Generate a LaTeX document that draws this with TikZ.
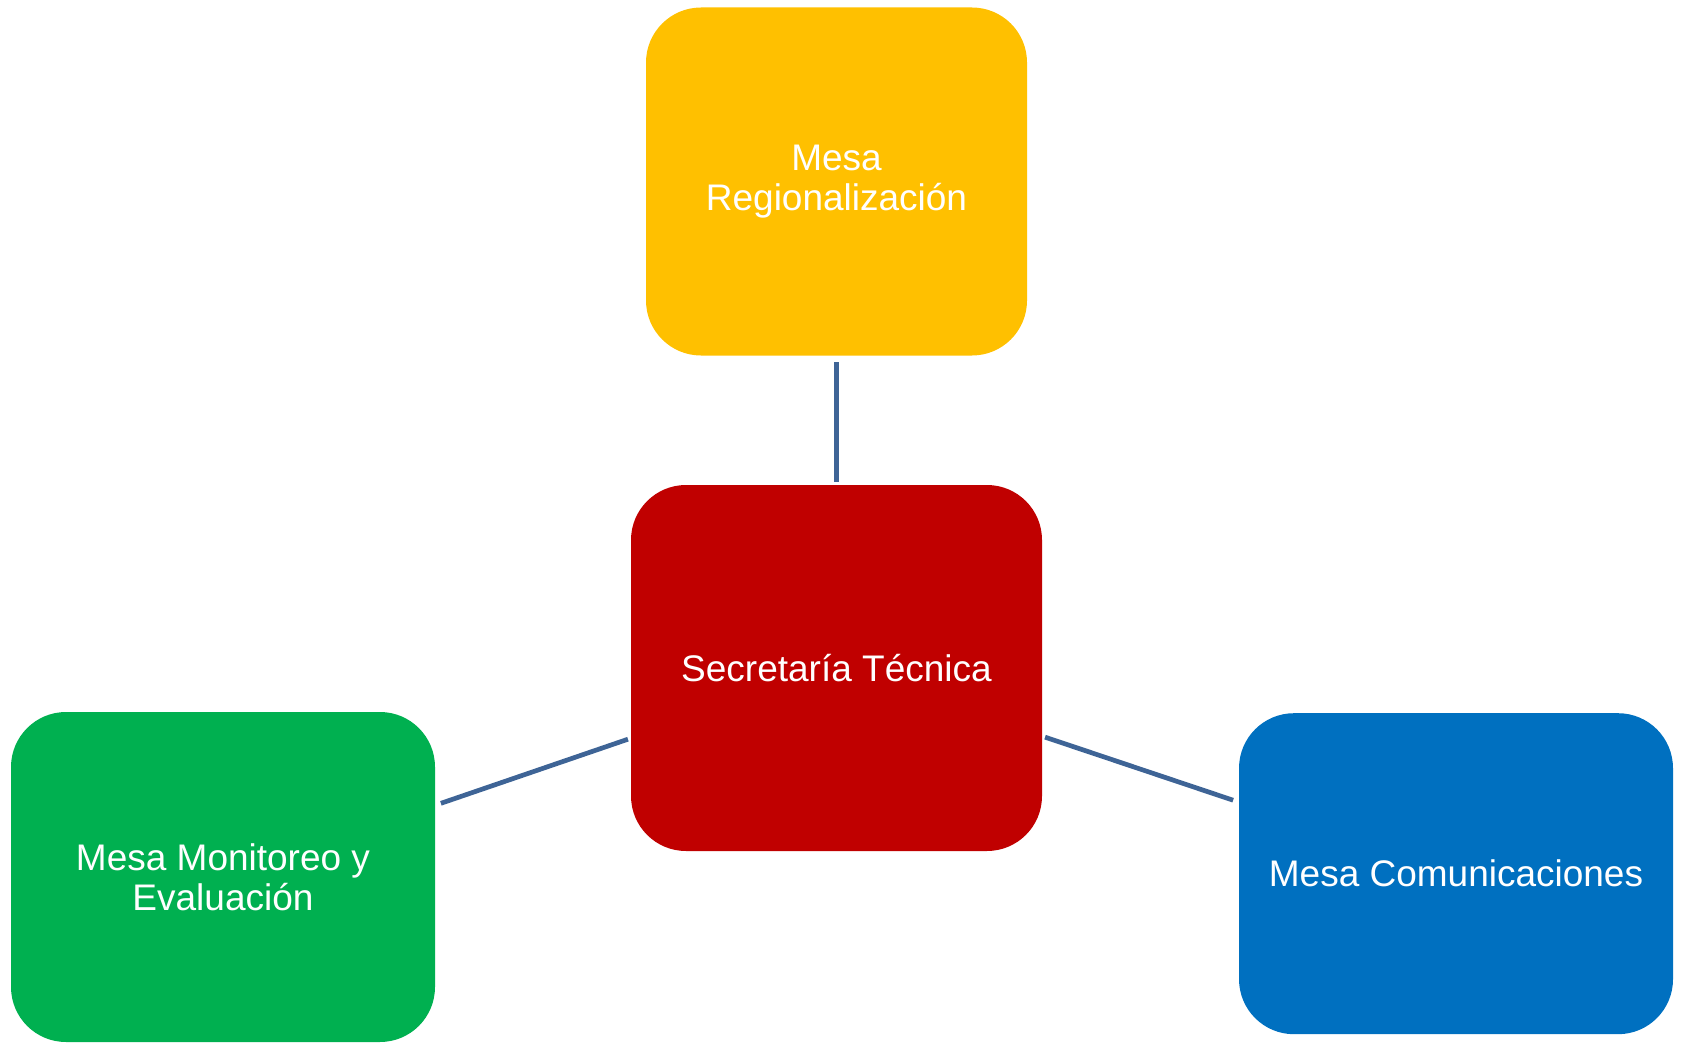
\documentclass[tikz,border=0pt]{standalone}
\usepackage{fontspec}
\setmainfont{Liberation Sans}
\definecolor{cyellow}{HTML}{FFC000}
\definecolor{cred}{HTML}{C00000}
\definecolor{cgreen}{HTML}{00B050}
\definecolor{cblue}{HTML}{0070C0}
\definecolor{clink}{RGB}{62,100,150}
\tikzset{
  mesabox/.style={rounded corners=55pt, inner sep=0pt, text=white, align=center,
    font=\fontsize{37}{40}\selectfont},
  link/.style={draw=clink, line width=4.7pt, shorten <=3pt, shorten >=6pt}
}
\begin{document}
\begin{tikzpicture}[x=1pt,y=-1pt]
\useasboundingbox (0,0) rectangle (1681,1043);
\node[mesabox, fill=cyellow, minimum width=381pt, minimum height=348pt] (reg) at (836.5,181.5) {Mesa\\Regionalización};
\node[mesabox, fill=cred, minimum width=411pt, minimum height=366pt] (sec) at (836.5,668) {Secretaría Técnica};
\node[mesabox, fill=cgreen, minimum width=424pt, minimum height=330pt] (mon) at (223,877) {Mesa Monitoreo y\\Evaluación};
\node[mesabox, fill=cblue, minimum width=434pt, minimum height=321pt] (com) at (1456,873.7) {Mesa Comunicaciones};
\draw[link] (sec) -- (reg);
\draw[link] (sec) -- (mon);
\draw[link] (sec) -- (com);
\end{tikzpicture}
\end{document}
